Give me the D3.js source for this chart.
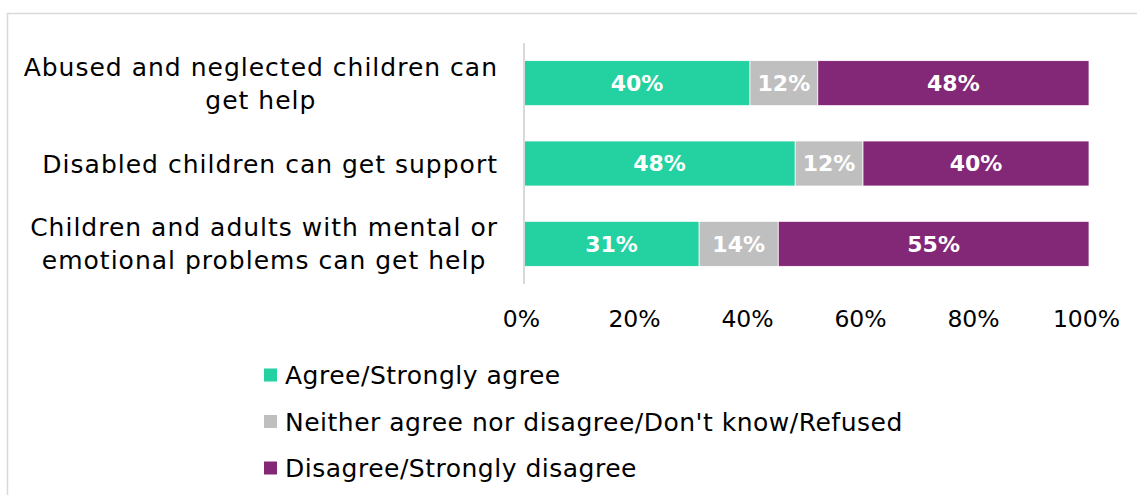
<!DOCTYPE html>
<html>
<head>
<meta charset="utf-8">
<script src="https://cdn.jsdelivr.net/npm/d3@7"></script>
<style>
  html, body { margin: 0; padding: 0; background: #fff; }
  svg { display: block; font-family: "DejaVu Sans", sans-serif; }
</style>
</head>
<body>
<svg id="chart" width="1137" height="495"></svg>
<script>
// Survey statements (top to bottom)
const categories = [
  ["Abused and neglected children can", "get help"],
  ["Disabled children can get support"],
  ["Children and adults with mental or", "emotional problems can get help"]
];
// Response shares, in percent
const agree    = [40, 48, 31];
const neither  = [12, 12, 14];
const disagree = [48, 40, 55];

const seriesNames  = ["Agree/Strongly agree", "Neither agree nor disagree/Don't know/Refused", "Disagree/Strongly disagree"];
const seriesColors = ["#24D1A0", "#BFBFBF", "#832777"];
const tickValues   = [0, 20, 40, 60, 80, 100];

const svg = d3.select("#chart");

// light frame around the chart area
svg.append("path")
  .attr("d", "M7.5,495 V13.5 H1137")
  .attr("fill", "none")
  .attr("stroke", "#D9D9D9")
  .attr("stroke-width", 1.5);

const x = d3.scaleLinear().domain([0, 100]).range([524, 1089]);
const y = d3.scaleBand().domain(d3.range(categories.length)).range([43, 284]).paddingInner(0.44).paddingOuter(0.22);

const rows = categories.map((c, i) => [agree[i], neither[i], disagree[i]]);
const stack = d3.stack().keys([0, 1, 2])(rows);

const g = svg.append("g");
stack.forEach((layer, k) => {
  const grp = g.append("g");
  grp.selectAll("rect").data(layer).join("rect")
    .attr("x", d => x(d[0]))
    .attr("y", (d, i) => y(i))
    .attr("width", d => x(d[1]) - x(d[0]))
    .attr("height", y.bandwidth())
    .attr("fill", seriesColors[k])
    .attr("stroke", "#fff")
    .attr("stroke-width", 0.75);
  grp.selectAll("text").data(layer).join("text")
    .attr("x", d => (x(d[0]) + x(d[1])) / 2)
    .attr("y", (d, i) => y(i) + y.bandwidth() / 2)
    .attr("dy", "0.36em")
    .attr("text-anchor", "middle")
    .attr("fill", "#fff")
    .attr("font-weight", "bold")
    .attr("font-size", 22)
    .text(d => (d[1] - d[0]) + "%");
});

// vertical category axis line
svg.append("line")
  .attr("x1", 524).attr("x2", 524)
  .attr("y1", 43).attr("y2", 284)
  .attr("stroke", "#D9D9D9").attr("stroke-width", 2);

// x axis tick labels
const xAxis = d3.axisBottom(x).tickValues(tickValues).tickFormat(d => d + "%").tickSize(0).tickPadding(0);
const ax = svg.append("g").attr("transform", "translate(-3,310)").call(xAxis);
ax.select(".domain").remove();
ax.selectAll("text")
  .attr("font-size", 23.5)
  .attr("fill", "#000")
  .attr("font-family", "DejaVu Sans, sans-serif");

// category labels: block right-aligned, lines centred within the block
categories.forEach((lines, i) => {
  const lg = svg.append("g");
  const lh = 33;
  const cy = y(i) + y.bandwidth() / 2;
  const texts = lines.map((t, j) => lg.append("text")
    .attr("font-size", 25)
    .attr("letter-spacing", 1)
    .attr("fill", "#000")
    .attr("y", cy + (j - (lines.length - 1) / 2) * lh)
    .attr("dy", "0.36em")
    .attr("text-anchor", "middle")
    .text(t));
  const w = d3.max(texts, t => t.node().getComputedTextLength());
  texts.forEach(t => t.attr("x", 498 - w / 2));
});

// legend
const legend = svg.append("g");
seriesNames.forEach((name, k) => {
  const ly = 375 + k * 46.5;
  legend.append("rect")
    .attr("x", 264).attr("y", ly - 6.5)
    .attr("width", 13).attr("height", 13)
    .attr("fill", seriesColors[k]);
  legend.append("text")
    .attr("x", 285).attr("y", ly)
    .attr("dy", "0.36em")
    .attr("font-size", 25)
    .attr("letter-spacing", 0.5)
    .attr("fill", "#000")
    .text(name);
});
</script>
</body>
</html>
